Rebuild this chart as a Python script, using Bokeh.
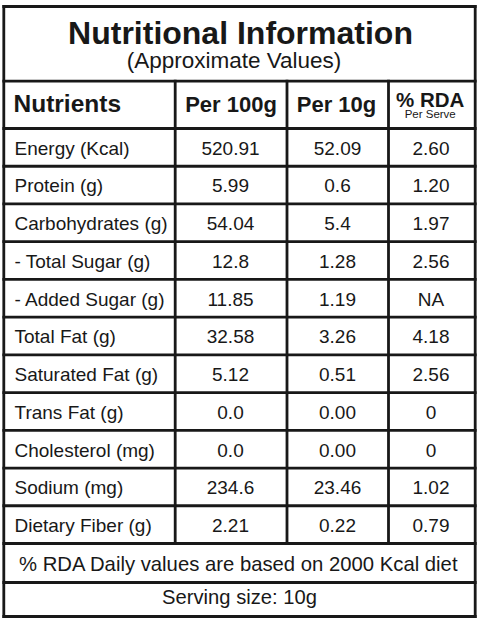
from bokeh.plotting import figure
from bokeh.models import ColumnDataSource, Range1d
from bokeh.core.properties import value
from bokeh.embed import file_html
from bokeh.resources import INLINE

# ---- data ----
title = "Nutritional Information"
subtitle = "(Approximate Values)"
headers = ["Nutrients", "Per 100g", "Per 10g", "% RDA"]
rda_note = "Per Serve"
nutrients = ["Energy (Kcal)", "Protein (g)", "Carbohydrates (g)", "- Total Sugar (g)",
             "- Added Sugar (g)", "Total Fat (g)", "Saturated Fat (g)", "Trans Fat (g)",
             "Cholesterol (mg)", "Sodium (mg)", "Dietary Fiber (g)"]
per_100g = ["520.91", "5.99", "54.04", "12.8", "11.85", "32.58", "5.12", "0.0", "0.0", "234.6", "2.21"]
per_10g = ["52.09", "0.6", "5.4", "1.28", "1.19", "3.26", "0.51", "0.00", "0.00", "23.46", "0.22"]
rda = ["2.60", "1.20", "1.97", "2.56", "NA", "4.18", "2.56", "0", "0", "1.02", "0.79"]
footnote = "% RDA Daily values are based on 2000 Kcal diet"
serving = "Serving size: 10g"

# ---- layout (reference pixel coordinates) ----
FONT = "Liberation Sans"
INK = "#181818"
LW = 2.8
X_L, X_R = 3.3, 474.7
COL_X = [174.7, 286.5, 388.0]
Y_TOP, Y_TITLE, Y_HEAD = 6.0, 80.7, 128.0
ROW_H = (543.0 - Y_HEAD) / len(nutrients)
Y_FOOT, Y_BOTTOM = 582.0, 616.0
BL = 0.35  # baseline correction (fraction of font size)

p = figure(width=480, height=629, output_backend="svg", toolbar_location=None,
           x_range=Range1d(0, 480), y_range=Range1d(629, 0),
           min_border=0, outline_line_color=None, background_fill_color="white",
           border_fill_color="white")
p.axis.visible = False
p.grid.visible = False

n = len(nutrients)
row_tops = [Y_HEAD + i * ROW_H for i in range(n)]
row_bottoms = [Y_HEAD + (i + 1) * ROW_H for i in range(n)]
row_mid = [(a + b) / 2 for a, b in zip(row_tops, row_bottoms)]

# horizontal rules
hy = [Y_TOP, Y_TITLE, Y_HEAD] + row_bottoms + [Y_FOOT, Y_BOTTOM]
p.segment(x0=[X_L] * len(hy), x1=[X_R] * len(hy), y0=hy, y1=hy,
          line_color=INK, line_width=LW, line_cap="square")
# vertical rules
vx = [X_L, X_R] + COL_X
vy0 = [Y_TOP, Y_TOP] + [Y_TITLE] * 3
vy1 = [Y_BOTTOM, Y_BOTTOM] + [row_bottoms[-1]] * 3
p.segment(x0=vx, x1=vx, y0=vy0, y1=vy1, line_color=INK, line_width=LW, line_cap="square")

def txt(x, y, t, size, bold=False, align="center"):
    p.text(x=[x], y=[y - BL * size], text=[t], text_font=value(FONT), text_font_size=f"{size}px",
           text_font_style="bold" if bold else "normal", text_color=INK,
           text_align=align, text_baseline="alphabetic")

txt(240, 43.5, title, 32, bold=True)
txt(233.5, 68.3, subtitle, 22.5)

txt(13, 111.7, headers[0], 24.5, bold=True, align="left")
txt(230.5, 111.7, headers[1], 22, bold=True)
txt(336, 111.7, headers[2], 22, bold=True)
txt(429.7, 106, headers[3], 20.5, bold=True)
txt(429.7, 117.5, rda_note, 11.5)

BODY = 19
src = ColumnDataSource(dict(y=[m + 7.5 - BL * BODY for m in row_mid], name=nutrients,
                            a=per_100g, b=per_10g, c=rda))
common = dict(y="y", source=src, text_font=value(FONT), text_font_size=f"{BODY}px",
              text_color=INK, text_baseline="alphabetic")
p.text(x=14, text="name", text_align="left", **common)
p.text(x=230, text="a", text_align="center", **common)
p.text(x=337, text="b", text_align="center", **common)
p.text(x=430.5, text="c", text_align="center", **common)

txt(238.3, 570.7, footnote, 20.3)
txt(239, 603.3, serving, 20.2)

open("out.html", "w").write(file_html(p, INLINE))
